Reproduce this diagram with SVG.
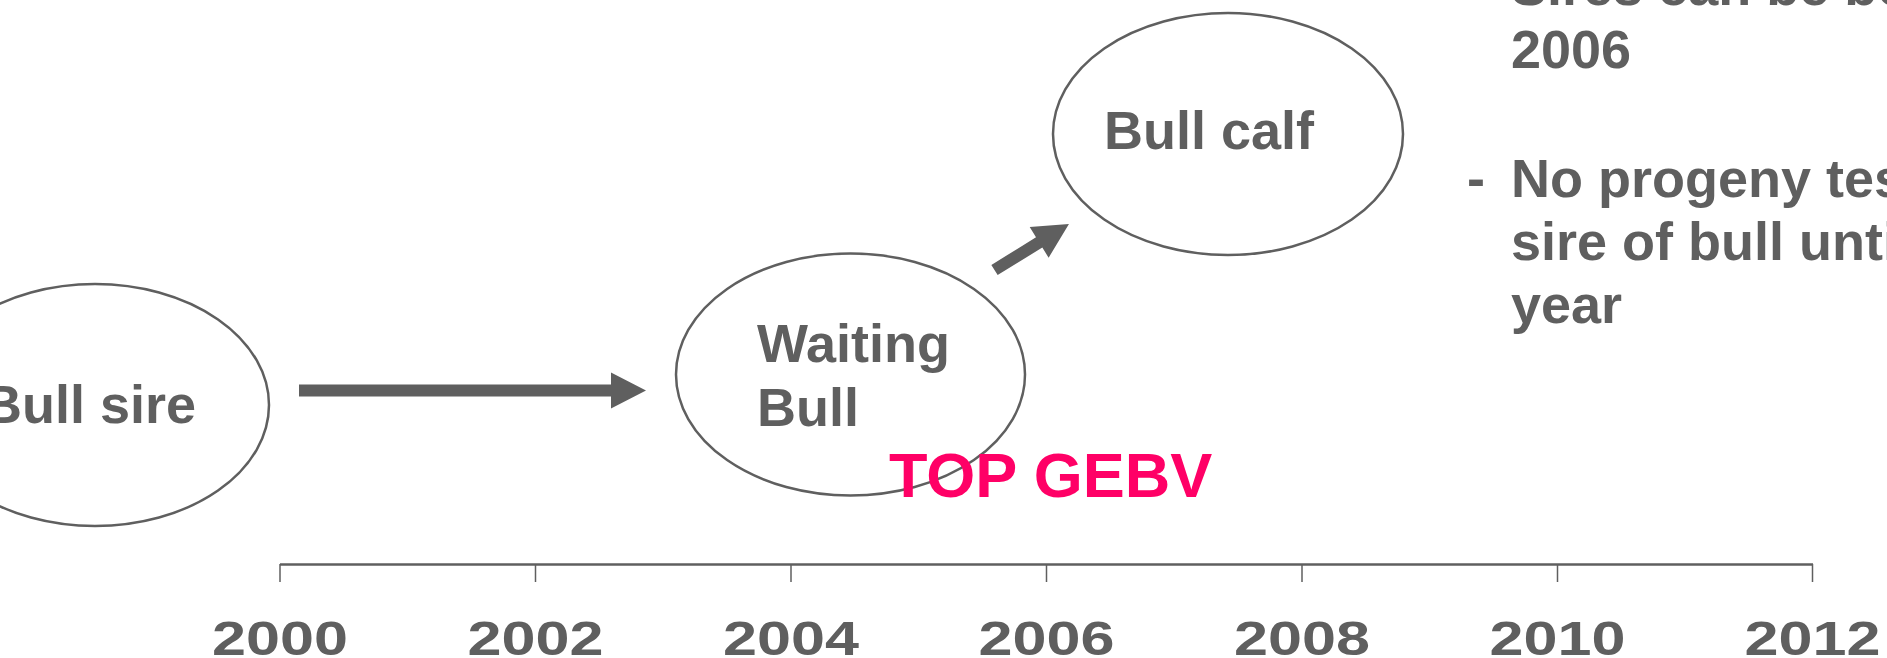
<svg xmlns="http://www.w3.org/2000/svg" width="1887" height="658" viewBox="0 0 1887 658">
  <style>
    .node ellipse { fill: #ffffff; stroke: #5f5f5f; stroke-width: 2.5; }
    .lbl { font-family: "Liberation Sans", Arial, sans-serif; font-weight: bold; font-size: 54px; fill: #5f5f5f; }
    .year { font-family: "Liberation Sans", Arial, sans-serif; font-weight: bold; font-size: 49px; fill: #5f5f5f; text-anchor: middle; }
    .hot { font-family: "Liberation Sans", Arial, sans-serif; font-weight: bold; font-size: 63px; fill: #ff0066; }
    .arrow { fill: #5f5f5f; }
    .axis line { stroke: #5f5f5f; }
  </style>
  <defs>
    <!-- block arrow pointing along +x, tail at origin -->
    <polygon id="blockArrow" points="0,-6 52.5,-6 52.5,-18 87.5,0 52.5,18 52.5,6 0,6"/>
  </defs>
  <rect width="1887" height="658" fill="#ffffff"/>

  <g id="node-bull-sire" class="node">
    <ellipse cx="95" cy="405" rx="174" ry="121"/>
    <text class="lbl" x="196" y="423" text-anchor="end">Bull sire</text>
  </g>

  <g id="node-waiting-bull" class="node">
    <ellipse cx="850.5" cy="374.5" rx="174.5" ry="121"/>
    <text class="lbl" x="757" y="362">Waiting</text>
    <text class="lbl" x="757" y="426">Bull</text>
  </g>

  <g id="node-bull-calf" class="node">
    <ellipse cx="1228" cy="134" rx="175" ry="121"/>
    <text class="lbl" x="1104" y="149">Bull calf</text>
  </g>

  <g id="connectors">
    <polygon class="arrow" points="299,384.5 611,384.5 611,372.5 646,390.5 611,408.5 611,396.5 299,396.5"/>
    <use class="arrow" href="#blockArrow" transform="translate(994.5,270) rotate(-31.7)"/>
  </g>

  <g id="highlight">
    <text class="hot" x="889" y="497">TOP GEBV</text>
  </g>

  <g id="notes">
    <text class="lbl" x="1511" y="5">Sires can be born</text>
    <text class="lbl" x="1511" y="68">2006</text>
    <text class="lbl" x="1467" y="197">-</text>
    <text class="lbl" x="1511" y="197">No progeny test</text>
    <text class="lbl" x="1511" y="260">sire of bull until</text>
    <text class="lbl" x="1511" y="323">year</text>
  </g>

  <g id="timeline" class="axis">
    <line x1="280" y1="564.5" x2="1813" y2="564.5" stroke-width="2.5"/>
    <line x1="280" y1="564" x2="280" y2="582" stroke-width="1.5"/>
    <line x1="535.5" y1="564" x2="535.5" y2="582" stroke-width="1.5"/>
    <line x1="791" y1="564" x2="791" y2="582" stroke-width="1.5"/>
    <line x1="1046.5" y1="564" x2="1046.5" y2="582" stroke-width="1.5"/>
    <line x1="1302" y1="564" x2="1302" y2="582" stroke-width="1.5"/>
    <line x1="1557.5" y1="564" x2="1557.5" y2="582" stroke-width="1.5"/>
    <line x1="1812.5" y1="564" x2="1812.5" y2="582" stroke-width="1.5"/>
    <text class="year" x="280" y="655" textLength="136" lengthAdjust="spacingAndGlyphs">2000</text>
    <text class="year" x="535.5" y="655" textLength="136" lengthAdjust="spacingAndGlyphs">2002</text>
    <text class="year" x="791" y="655" textLength="136" lengthAdjust="spacingAndGlyphs">2004</text>
    <text class="year" x="1046.5" y="655" textLength="136" lengthAdjust="spacingAndGlyphs">2006</text>
    <text class="year" x="1302" y="655" textLength="136" lengthAdjust="spacingAndGlyphs">2008</text>
    <text class="year" x="1557.5" y="655" textLength="136" lengthAdjust="spacingAndGlyphs">2010</text>
    <text class="year" x="1812.5" y="655" textLength="136" lengthAdjust="spacingAndGlyphs">2012</text>
  </g>
</svg>
